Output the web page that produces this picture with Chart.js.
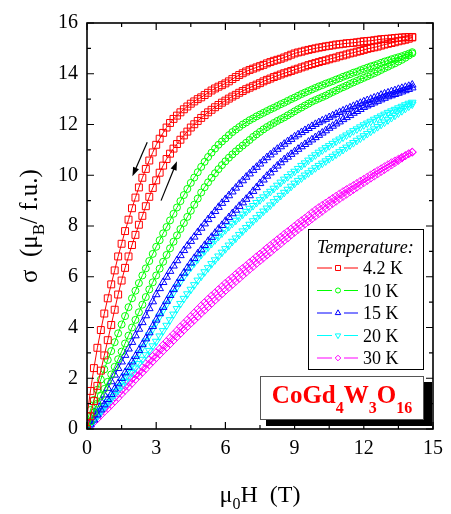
<!DOCTYPE html>
<html><head><meta charset="utf-8">
<script src="https://cdn.jsdelivr.net/npm/chart.js@4.4.1/dist/chart.umd.min.js"></script>
<style>html,body{margin:0;padding:0;background:#fff}canvas{display:block}</style>
</head><body>
<canvas id="c" width="451" height="514"></canvas>
<script>
// Applied field (T), shared by every branch (sweep step 0.15 T)
const field = [0,0.15,0.3,0.45,0.6,0.75,0.9,1.05,1.2,1.35,
1.5,1.65,1.8,1.95,2.1,2.25,2.4,2.55,2.7,2.85,
3,3.15,3.3,3.45,3.6,3.75,3.9,4.05,4.2,4.35,
4.5,4.65,4.8,4.95,5.1,5.25,5.4,5.55,5.7,5.85,
6,6.15,6.3,6.45,6.6,6.75,6.9,7.05,7.2,7.35,
7.5,7.65,7.8,7.95,8.1,8.25,8.4,8.55,8.7,8.85,
9,9.15,9.3,9.45,9.6,9.75,9.9,10.05,10.2,10.35,
10.5,10.65,10.8,10.95,11.1,11.25,11.4,11.55,11.7,11.85,
12,12.15,12.3,12.45,12.6,12.75,12.9,13.05,13.2,13.35,
13.5,13.65,13.8,13.95,14.1];

// Magnetization sigma (muB / f.u.): "Up" = increasing-field branch, "Down" = decreasing-field branch
const t42Up = [0,0.5,1.1,1.7,2.3,2.9,3.5,4.1,4.7,5.3,
5.85,6.35,6.8,7.25,7.65,8.05,8.4,8.78,9.15,9.5,
9.8,10.1,10.38,10.64,10.85,11.05,11.23,11.4,11.57,11.72,
11.88,12.01,12.14,12.26,12.37,12.48,12.58,12.68,12.77,12.86,
12.94,13.02,13.1,13.17,13.25,13.32,13.39,13.45,13.51,13.57,
13.63,13.7,13.76,13.81,13.87,13.92,13.97,14.02,14.06,14.11,
14.16,14.2,14.25,14.29,14.34,14.38,14.42,14.46,14.5,14.53,
14.57,14.61,14.64,14.69,14.72,14.76,14.8,14.83,14.87,14.9,
14.94,14.98,15.01,15.04,15.07,15.11,15.15,15.18,15.21,15.24,
15.28,15.31,15.34,15.38,15.43];
const t42Down = [0.5,1.5,2.4,3.2,3.9,4.55,5.15,5.7,6.25,6.8,
7.3,7.8,8.25,8.7,9.12,9.52,9.9,10.25,10.58,10.9,
11.2,11.44,11.67,11.88,12.06,12.22,12.35,12.48,12.6,12.71,
12.82,12.91,13.0,13.07,13.16,13.25,13.34,13.42,13.49,13.55,
13.62,13.7,13.79,13.87,13.95,14.02,14.09,14.15,14.2,14.25,
14.3,14.35,14.41,14.46,14.51,14.55,14.59,14.64,14.69,14.75,
14.8,14.84,14.87,14.91,14.94,14.97,15.0,15.03,15.05,15.08,
15.1,15.12,15.15,15.16,15.18,15.2,15.21,15.22,15.24,15.26,
15.28,15.29,15.3,15.32,15.34,15.36,15.37,15.38,15.39,15.41,
15.42,15.43,15.44,15.45,15.45];
const t10Up = [0,0.3,0.65,1.0,1.3,1.58,1.86,2.15,2.45,2.75,
3.05,3.37,3.68,4.0,4.3,4.6,4.9,5.2,5.5,5.78,
6.05,6.32,6.59,6.86,7.12,7.38,7.63,7.88,8.12,8.36,
8.6,8.84,9.08,9.32,9.53,9.72,9.9,10.08,10.24,10.4,
10.55,10.69,10.82,10.94,11.06,11.17,11.28,11.39,11.51,11.61,
11.71,11.81,11.9,11.98,12.06,12.14,12.21,12.28,12.36,12.44,
12.52,12.6,12.67,12.75,12.82,12.9,12.96,13.02,13.08,13.14,
13.21,13.28,13.34,13.41,13.47,13.53,13.6,13.66,13.72,13.78,
13.84,13.9,13.96,14.02,14.08,14.15,14.22,14.28,14.35,14.41,
14.48,14.55,14.63,14.72,14.8];
const t10Down = [0.3,0.75,1.15,1.55,1.95,2.35,2.72,3.07,3.42,3.77,
4.12,4.45,4.8,5.15,5.45,5.75,6.05,6.33,6.62,6.9,
7.18,7.44,7.71,7.96,8.22,8.48,8.73,8.98,9.22,9.46,
9.7,9.91,10.12,10.33,10.53,10.72,10.89,11.05,11.2,11.33,
11.45,11.58,11.7,11.8,11.9,12.0,12.08,12.17,12.24,12.32,
12.39,12.46,12.53,12.6,12.66,12.73,12.8,12.86,12.93,13.0,
13.06,13.13,13.2,13.26,13.32,13.38,13.44,13.5,13.55,13.61,
13.66,13.71,13.77,13.82,13.88,13.93,13.98,14.04,14.08,14.14,
14.19,14.24,14.29,14.33,14.38,14.43,14.48,14.52,14.57,14.61,
14.65,14.69,14.74,14.79,14.85];
const t15Up = [0,0.17,0.36,0.56,0.76,0.96,1.17,1.37,1.58,1.79,
2.0,2.22,2.43,2.65,2.87,3.1,3.33,3.56,3.8,4.05,
4.3,4.55,4.8,5.04,5.27,5.5,5.72,5.94,6.15,6.35,
6.55,6.73,6.91,7.07,7.24,7.4,7.56,7.72,7.88,8.03,
8.19,8.34,8.49,8.63,8.78,8.92,9.06,9.2,9.37,9.52,
9.68,9.82,9.97,10.1,10.24,10.37,10.5,10.62,10.72,10.83,
10.93,11.03,11.13,11.22,11.31,11.4,11.49,11.58,11.67,11.76,
11.86,11.94,12.03,12.11,12.2,12.28,12.36,12.45,12.52,12.6,
12.68,12.74,12.8,12.86,12.92,12.98,13.04,13.1,13.14,13.19,
13.24,13.29,13.34,13.39,13.45];
const t15Down = [0.05,0.3,0.56,0.83,1.1,1.35,1.61,1.87,2.13,2.39,
2.65,2.91,3.16,3.42,3.68,3.94,4.2,4.47,4.75,5.02,
5.3,5.54,5.78,5.99,6.22,6.43,6.64,6.84,7.04,7.22,
7.4,7.57,7.75,7.92,8.09,8.26,8.42,8.58,8.74,8.9,
9.05,9.2,9.35,9.5,9.65,9.79,9.93,10.06,10.2,10.32,
10.45,10.58,10.7,10.81,10.92,11.03,11.13,11.23,11.33,11.42,
11.52,11.6,11.69,11.77,11.85,11.93,12.01,12.08,12.15,12.21,
12.28,12.35,12.41,12.48,12.54,12.6,12.66,12.72,12.78,12.84,
12.9,12.95,13.0,13.05,13.1,13.16,13.21,13.25,13.3,13.34,
13.39,13.43,13.47,13.51,13.56];
const t20Up = [0,0.16,0.33,0.5,0.67,0.84,1.01,1.18,1.35,1.53,
1.7,1.87,2.05,2.22,2.4,2.57,2.74,2.92,3.09,3.27,
3.45,3.66,3.87,4.08,4.3,4.52,4.74,4.94,5.14,5.32,
5.5,5.68,5.86,6.02,6.19,6.35,6.51,6.66,6.81,6.96,
7.1,7.24,7.39,7.52,7.66,7.8,7.93,8.06,8.2,8.32,
8.45,8.58,8.7,8.82,8.95,9.08,9.2,9.32,9.44,9.56,
9.68,9.79,9.89,10.0,10.09,10.19,10.29,10.38,10.47,10.56,
10.65,10.74,10.83,10.92,11.01,11.1,11.19,11.28,11.37,11.46,
11.55,11.64,11.73,11.82,11.91,12.0,12.09,12.18,12.27,12.36,
12.45,12.54,12.63,12.72,12.8];
const t20Down = [0.05,0.22,0.38,0.55,0.72,0.9,1.08,1.27,1.47,1.67,
1.88,2.09,2.31,2.53,2.76,2.99,3.22,3.46,3.7,3.95,
4.2,4.44,4.68,4.92,5.15,5.38,5.6,5.81,6.01,6.19,
6.37,6.54,6.7,6.87,7.02,7.17,7.31,7.45,7.59,7.72,
7.85,7.98,8.1,8.22,8.34,8.46,8.57,8.69,8.8,8.92,
9.03,9.14,9.26,9.36,9.48,9.6,9.72,9.84,9.94,10.05,
10.15,10.26,10.38,10.48,10.59,10.7,10.8,10.9,10.99,11.08,
11.16,11.25,11.34,11.42,11.5,11.58,11.66,11.75,11.82,11.9,
11.98,12.05,12.12,12.2,12.26,12.33,12.4,12.47,12.53,12.59,
12.65,12.71,12.77,12.83,12.87];
const t30Up = [0,0.13,0.27,0.4,0.54,0.68,0.81,0.95,1.09,1.23,
1.38,1.52,1.66,1.8,1.95,2.09,2.23,2.37,2.52,2.66,
2.8,2.94,3.08,3.21,3.35,3.49,3.63,3.76,3.9,4.03,
4.16,4.29,4.42,4.56,4.68,4.81,4.94,5.07,5.2,5.32,
5.45,5.57,5.69,5.81,5.93,6.05,6.17,6.29,6.4,6.52,
6.63,6.74,6.85,6.96,7.08,7.19,7.3,7.42,7.52,7.64,
7.75,7.86,7.96,8.07,8.17,8.28,8.38,8.48,8.58,8.68,
8.78,8.88,8.97,9.07,9.16,9.25,9.34,9.43,9.52,9.61,
9.7,9.79,9.88,9.96,10.05,10.14,10.22,10.31,10.4,10.49,
10.58,10.67,10.76,10.85,10.9];
const t30Down = [0.05,0.2,0.35,0.5,0.65,0.8,0.95,1.1,1.25,1.4,
1.55,1.7,1.85,2.0,2.15,2.29,2.44,2.58,2.73,2.87,
3.02,3.16,3.31,3.45,3.6,3.74,3.88,4.03,4.16,4.3,
4.44,4.58,4.72,4.86,4.99,5.12,5.25,5.37,5.5,5.62,
5.75,5.86,5.98,6.1,6.22,6.33,6.44,6.56,6.67,6.79,
6.9,7.01,7.13,7.24,7.35,7.46,7.57,7.68,7.78,7.89,
8.0,8.11,8.21,8.31,8.42,8.53,8.63,8.73,8.82,8.91,
9.0,9.09,9.18,9.27,9.36,9.44,9.52,9.6,9.68,9.77,
9.85,9.93,10.02,10.1,10.18,10.26,10.34,10.42,10.5,10.57,
10.64,10.71,10.78,10.85,10.92];

const temperatures = ['4.2 K','10 K','15 K','20 K','30 K'];
const xMajorTicks = [0,3,6,9,12,15];
const xMinorTicks = [1.5,4.5,7.5,10.5,13.5];
const yMajorTicks = [0,2,4,6,8,10,12,14,16];
const yMinorTicks = [1,3,5,7,9,11,13,15];
// Sweep-direction arrows, in data units [field, sigma]
const arrowDecreasing = [[2.61,11.3],[1.97,9.96]];
const arrowIncreasing = [[3.21,9.0],[3.9,10.55]];

const upBranches = [t42Up,t10Up,t15Up,t20Up,t30Up];
const downBranches = [t42Down,t10Down,t15Down,t20Down,t30Down];

const colors = ['#ff0000','#00ff00','#0000ff','#00ffff','#ff00ff'];
const styles = [
  {pointStyle:'rect', radius:4.9, rotation:0},
  {pointStyle:'circle', radius:3.5, rotation:0},
  {pointStyle:'triangle', radius:4.4, rotation:0},
  {pointStyle:'triangle', radius:4.4, rotation:180},
  {pointStyle:'rectRot', radius:3.9, rotation:0}
];
const SERIF = '"Liberation Serif", "Times New Roman", serif';

const datasets = temperatures.map((t,k) => {
  const pts = field.map((h,i) => ({x:h, y:upBranches[k][i]}));
  for (let i = field.length - 1; i >= 0; i--) pts.push({x:field[i], y:downBranches[k][i]});
  return {
    label: t, data: pts, showLine: true,
    borderColor: colors[k], borderWidth: 1,
    pointStyle: styles[k].pointStyle, pointRadius: styles[k].radius, pointRotation: styles[k].rotation,
    pointBorderColor: colors[k], pointBackgroundColor: 'rgba(0,0,0,0)', pointBorderWidth: 1,
    pointHoverRadius: styles[k].radius
  };
});

function drawRich(ctx, parts, x, y, mainFont, subFont, subShift, align) {
  let w = 0;
  parts.forEach(p => { ctx.font = p[1] ? subFont : mainFont; w += ctx.measureText(p[0]).width; });
  let cx = align === 'center' ? x - w/2 : x;
  ctx.textAlign = 'left'; ctx.textBaseline = 'alphabetic';
  parts.forEach(p => {
    ctx.font = p[1] ? subFont : mainFont;
    ctx.fillText(p[0], cx, p[1] ? y + subShift : y);
    cx += ctx.measureText(p[0]).width;
  });
}

function arrow(ctx, xs, ys, a) {
  const x0 = xs.getPixelForValue(a[0][0]), y0 = ys.getPixelForValue(a[0][1]);
  const x1 = xs.getPixelForValue(a[1][0]), y1 = ys.getPixelForValue(a[1][1]);
  const ang = Math.atan2(y1-y0, x1-x0), L = 9, W = 3.2;
  ctx.strokeStyle = '#000'; ctx.fillStyle = '#000'; ctx.lineWidth = 1.2;
  ctx.beginPath(); ctx.moveTo(x0,y0); ctx.lineTo(x1 - Math.cos(ang)*L*0.8, y1 - Math.sin(ang)*L*0.8); ctx.stroke();
  ctx.beginPath();
  ctx.moveTo(x1,y1);
  ctx.lineTo(x1 - Math.cos(ang)*L - Math.sin(ang)*W, y1 - Math.sin(ang)*L + Math.cos(ang)*W);
  ctx.lineTo(x1 - Math.cos(ang)*L + Math.sin(ang)*W, y1 - Math.sin(ang)*L - Math.cos(ang)*W);
  ctx.closePath(); ctx.fill();
}

const decorations = {
  id: 'decorations',
  afterDatasetsDraw(chart) {
    const ctx = chart.ctx, xs = chart.scales.x, ys = chart.scales.y;
    const {left, right, top, bottom} = chart.chartArea;
    ctx.save();
    ctx.strokeStyle = '#000'; ctx.lineWidth = 1.6;
    ctx.strokeRect(left, top, right-left, bottom-top);
    ctx.lineWidth = 1.2;
    const tick = (vals, len) => {
      vals.forEach(v => {
        const px = xs.getPixelForValue(v);
        ctx.beginPath(); ctx.moveTo(px, bottom); ctx.lineTo(px, bottom-len);
        ctx.moveTo(px, top); ctx.lineTo(px, top+len); ctx.stroke();
      });
    };
    const ytick = (vals, len) => {
      vals.forEach(v => {
        const py = ys.getPixelForValue(v);
        ctx.beginPath(); ctx.moveTo(left, py); ctx.lineTo(left+len, py);
        ctx.moveTo(right, py); ctx.lineTo(right-len, py); ctx.stroke();
      });
    };
    tick(xMajorTicks, 7); tick(xMinorTicks, 4);
    ytick(yMajorTicks, 7); ytick(yMinorTicks, 4);

    // arrows
    arrow(ctx, xs, ys, arrowDecreasing);
    arrow(ctx, xs, ys, arrowIncreasing);

    // legend box
    ctx.fillStyle = '#fff'; ctx.fillRect(308.5, 229.5, 115, 140);
    ctx.strokeStyle = '#000'; ctx.lineWidth = 1; ctx.strokeRect(308.5, 229.5, 115, 140);
    ctx.fillStyle = '#000'; ctx.textAlign = 'left'; ctx.textBaseline = 'alphabetic';
    ctx.font = 'italic 18px ' + SERIF;
    ctx.fillText('Temperature:', 317, 253);
    temperatures.forEach((t,k) => {
      const y = 268 + k*22.5;
      ctx.strokeStyle = colors[k]; ctx.lineWidth = 1;
      ctx.beginPath(); ctx.moveTo(317, y); ctx.lineTo(332, y); ctx.moveTo(344, y); ctx.lineTo(358, y); ctx.stroke();
      ctx.fillStyle = 'rgba(0,0,0,0)';
      Chart.helpers.drawPoint(ctx, {pointStyle: styles[k].pointStyle, rotation: styles[k].rotation, radius: styles[k].radius*0.72, borderWidth: 1}, 338, y);
      ctx.fillStyle = '#000'; ctx.font = '18px ' + SERIF;
      ctx.fillText(t, 363, y + 6);
    });

    // compound label with shadow
    ctx.fillStyle = '#000'; ctx.fillRect(266, 382, 166, 44);
    ctx.fillStyle = '#fff'; ctx.fillRect(260.5, 376.5, 163, 43);
    ctx.strokeStyle = '#555'; ctx.lineWidth = 1; ctx.strokeRect(260.5, 376.5, 163, 43);
    ctx.fillStyle = '#ff0000';
    drawRich(ctx, [['Co',0],['Gd',0],['4',1],['W',0],['3',1],['O',0],['16',1]], 342, 403,
      'bold 25px ' + SERIF, 'bold 16px ' + SERIF, 10, 'center');

    // axis titles
    ctx.fillStyle = '#000';
    drawRich(ctx, [['μ',0],['0',1],['H  (T)',0]], (left+right)/2, 502, '24px ' + SERIF, '16px ' + SERIF, 7, 'center');
    ctx.translate(37, (top+bottom)/2);
    ctx.rotate(-Math.PI/2);
    drawRich(ctx, [['σ  (μ',0],['B',1],['/ f.u.)',0]], 0, 0, '25px ' + SERIF, '17px ' + SERIF, 7, 'center');
    ctx.restore();
  }
};

Chart.defaults.font.family = SERIF;
Chart.defaults.color = '#000';

new Chart(document.getElementById('c'), {
  type: 'scatter',
  data: { datasets },
  options: {
    responsive: false, animation: false, devicePixelRatio: 1,
    layout: { padding: { top: 23, right: 14, left: 0, bottom: 0 } },
    plugins: { legend: { display: false }, tooltip: { enabled: false } },
    scales: {
      x: {
        type: 'linear', min: 0, max: 15,
        ticks: { stepSize: 3, font: { size: 20, family: SERIF }, color: '#000', padding: 8, maxRotation: 0 },
        grid: { display: false, drawTicks: false }, border: { display: false },
        afterFit(s) { s.height = 85; }
      },
      y: {
        type: 'linear', min: 0, max: 16,
        ticks: { stepSize: 2, font: { size: 20, family: SERIF }, color: '#000', padding: 9 },
        grid: { display: false, drawTicks: false }, border: { display: false },
        afterFit(s) { s.width = 87; }
      }
    }
  },
  plugins: [decorations]
});
</script>
</body></html>
